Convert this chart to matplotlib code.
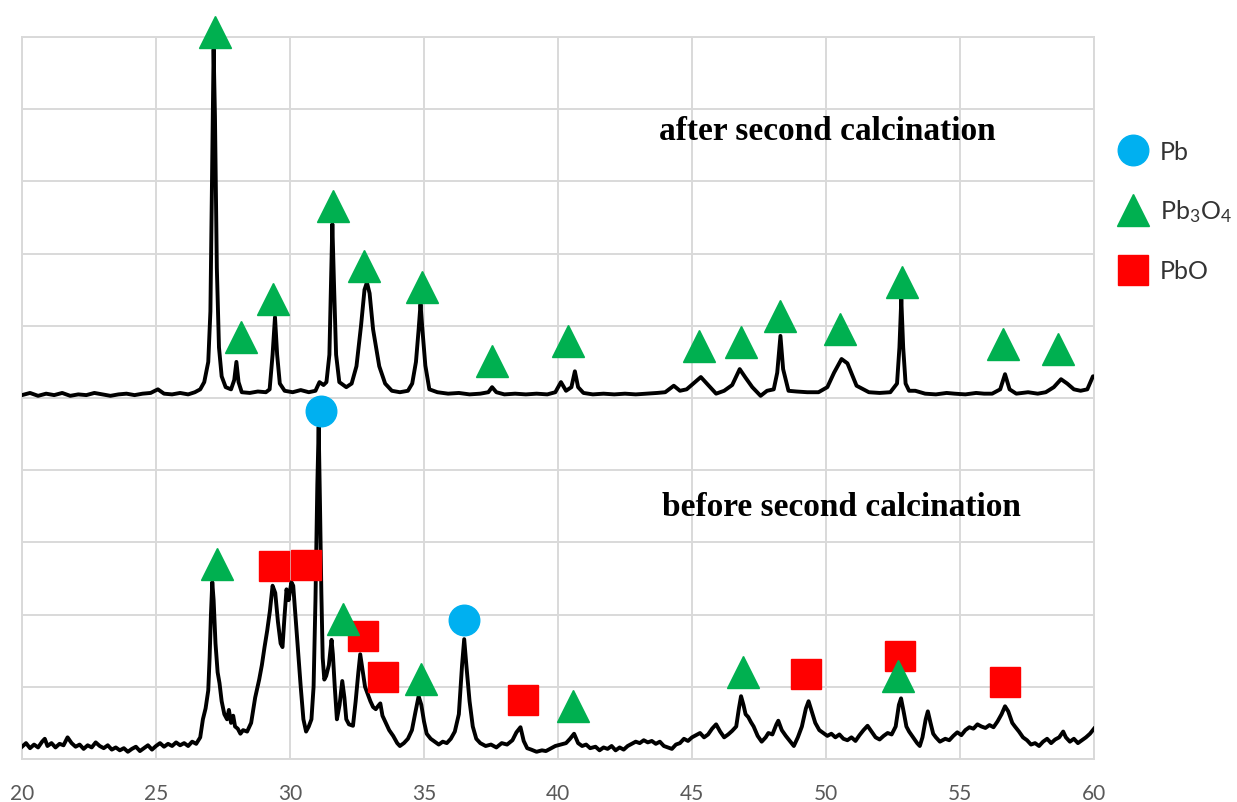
import matplotlib
matplotlib.use("Agg")
import matplotlib.pyplot as plt

plt.rcParams["font.family"] = ["Lato", "DejaVu Sans"]
plt.rcParams["mathtext.default"] = "regular"

# ==========================================
# XRD TRACES (2theta, intensity in grid units)
# ==========================================
after_x = [20.0, 20.3, 20.6, 20.9, 21.2, 21.5, 21.8, 22.1, 22.4, 22.7, 23.0, 23.3, 23.6, 23.9,
           24.2, 24.5, 24.8, 25.07, 25.3, 25.6, 25.9, 26.2, 26.45, 26.65, 26.8, 26.95, 27.03,
           27.1, 27.15, 27.2, 27.27, 27.35, 27.45, 27.6, 27.8, 27.92, 28.0, 28.08, 28.2, 28.5,
           28.8, 29.1, 29.24, 29.35, 29.44, 29.52, 29.62, 29.8, 30.1, 30.4, 30.7, 30.95, 31.1,
           31.25, 31.36, 31.47, 31.53, 31.58, 31.64, 31.72, 31.84, 32.1, 32.3, 32.48, 32.65,
           32.78, 32.87, 32.97, 33.1, 33.33, 33.55, 33.8, 34.1, 34.4, 34.56, 34.7, 34.8, 34.87,
           34.94, 35.05, 35.2, 35.5, 35.9, 36.3, 36.7, 37.1, 37.4, 37.54, 37.7, 38.0, 38.4,
           38.8, 39.2, 39.6, 39.9, 40.11, 40.3, 40.5, 40.63, 40.75, 40.95, 41.3, 41.7, 42.1,
           42.5, 42.9, 43.3, 43.7, 44.0, 44.32, 44.55, 44.8, 45.05, 45.33, 45.6, 45.9, 46.2,
           46.5, 46.78, 47.0, 47.25, 47.56, 47.8, 48.05, 48.18, 48.3, 48.4, 48.6, 48.9, 49.3,
           49.72, 50.05, 50.3, 50.58, 50.8, 51.14, 51.6, 52.0, 52.4, 52.65, 52.74, 52.81, 52.88,
           52.97, 53.1, 53.33, 53.7, 54.1, 54.5, 54.8, 55.2, 55.6, 55.9, 56.2, 56.5, 56.68,
           56.85, 57.1, 57.54, 57.9, 58.2, 58.5, 58.77, 59.0, 59.25, 59.5, 59.75, 59.96, 60.0]
after_y = [5.04, 5.07, 5.03, 5.06, 5.04, 5.07, 5.03, 5.05, 5.04, 5.07, 5.05, 5.03, 5.05, 5.06,
           5.04, 5.06, 5.07, 5.12, 5.06, 5.05, 5.07, 5.05, 5.08, 5.12, 5.22, 5.5, 6.2,
           8.3, 9.83, 8.9, 6.8, 5.7, 5.3, 5.15, 5.12, 5.25, 5.5, 5.22, 5.08, 5.07,
           5.09, 5.08, 5.12, 5.6, 6.12, 5.6, 5.2, 5.1, 5.08, 5.11, 5.08, 5.1, 5.22,
           5.18, 5.22, 5.6, 6.6, 7.41, 6.6, 5.6, 5.22, 5.15, 5.2, 5.44, 6.0,
           6.5, 6.6, 6.45, 5.95, 5.44, 5.2, 5.1, 5.08, 5.1, 5.2, 5.5, 5.95, 6.3,
           5.95, 5.45, 5.12, 5.08, 5.06, 5.07, 5.05, 5.06, 5.08, 5.15, 5.08, 5.05, 5.06,
           5.05, 5.06, 5.05, 5.08, 5.22, 5.1, 5.15, 5.37, 5.15, 5.07, 5.05, 5.06, 5.05,
           5.06, 5.05, 5.06, 5.07, 5.08, 5.17, 5.1, 5.12, 5.2, 5.29, 5.18, 5.06, 5.1,
           5.18, 5.4, 5.28, 5.15, 5.03, 5.1, 5.12, 5.35, 5.86, 5.4, 5.1, 5.09, 5.08,
           5.08, 5.15, 5.35, 5.54, 5.48, 5.17, 5.08, 5.07, 5.08, 5.2, 5.7, 6.37, 5.7,
           5.2, 5.1, 5.1, 5.06, 5.05, 5.07, 5.06, 5.05, 5.07, 5.06, 5.06, 5.12, 5.33,
           5.12, 5.06, 5.08, 5.06, 5.08, 5.15, 5.26, 5.2, 5.12, 5.1, 5.12, 5.3, 5.3]

before_x = [20.0, 20.15, 20.3, 20.45, 20.6, 20.75, 20.85, 20.95, 21.1, 21.25, 21.4, 21.55, 21.7,
            21.85, 22.0, 22.15, 22.3, 22.45, 22.6, 22.75, 22.9, 23.05, 23.2, 23.35, 23.5, 23.65,
            23.8, 23.95, 24.1, 24.25, 24.4, 24.55, 24.7, 24.85, 25.0, 25.15, 25.3, 25.45, 25.6,
            25.75, 25.9, 26.05, 26.2, 26.35, 26.5, 26.65, 26.75, 26.85, 26.95, 27.0, 27.05, 27.1,
            27.15, 27.22, 27.3, 27.37, 27.45, 27.55, 27.65, 27.72, 27.8, 27.88, 27.95, 28.05,
            28.15, 28.25, 28.4, 28.55, 28.7, 28.85, 28.95, 29.05, 29.15, 29.25, 29.35, 29.45,
            29.55, 29.65, 29.72, 29.8, 29.87, 29.95, 30.05, 30.12, 30.2, 30.3, 30.4, 30.5, 30.6,
            30.7, 30.8, 30.88, 30.95, 31.02, 31.07, 31.12, 31.17, 31.22, 31.28, 31.35, 31.45,
            31.55, 31.6, 31.67, 31.75, 31.85, 31.95, 32.03, 32.1, 32.2, 32.35, 32.45, 32.55,
            32.62, 32.7, 32.8, 32.9, 33.0, 33.1, 33.2, 33.3, 33.37, 33.45, 33.55, 33.7, 33.85,
            34.0, 34.1, 34.25, 34.4, 34.55, 34.68, 34.8, 34.9, 35.0, 35.1, 35.25, 35.4, 35.55,
            35.7, 35.85, 36.0, 36.15, 36.3, 36.42, 36.5, 36.58, 36.7, 36.82, 36.95, 37.1, 37.3,
            37.5, 37.7, 37.9, 38.1, 38.3, 38.45, 38.6, 38.72, 38.85, 39.0, 39.2, 39.4, 39.55,
            39.75, 39.9, 40.1, 40.3, 40.45, 40.6, 40.75, 40.9, 41.05, 41.2, 41.4, 41.55, 41.7,
            41.85, 42.0, 42.15, 42.3, 42.45, 42.6, 42.75, 42.9, 43.05, 43.2, 43.35, 43.5, 43.65,
            43.8, 43.95, 44.1, 44.25, 44.4, 44.55, 44.7, 44.85, 45.0, 45.15, 45.3, 45.45, 45.6,
            45.75, 45.9, 46.05, 46.2, 46.35, 46.5, 46.65, 46.75, 46.83, 46.92, 47.0, 47.1, 47.2,
            47.3, 47.45, 47.6, 47.75, 47.85, 48.0, 48.15, 48.22, 48.35, 48.5, 48.65, 48.8, 48.95,
            49.1, 49.25, 49.35, 49.45, 49.6, 49.75, 49.9, 50.05, 50.2, 50.35, 50.5, 50.65, 50.8,
            50.95, 51.1, 51.25, 51.4, 51.55, 51.7, 51.85, 52.0, 52.15, 52.3, 52.45, 52.6, 52.72,
            52.8, 52.9, 53.0, 53.1, 53.25, 53.4, 53.5, 53.6, 53.72, 53.8, 53.9, 54.0, 54.1, 54.25,
            54.45, 54.6, 54.75, 54.9, 55.05, 55.2, 55.35, 55.5, 55.65, 55.8, 55.95, 56.1, 56.25,
            56.4, 56.55, 56.68, 56.8, 56.95, 57.05, 57.2, 57.35, 57.5, 57.65, 57.8, 57.95, 58.1,
            58.25, 58.4, 58.55, 58.7, 58.85, 58.95, 59.1, 59.25, 59.4, 59.55, 59.7, 59.85, 60.0]
before_y = [0.17, 0.22, 0.15, 0.2, 0.16, 0.24, 0.28, 0.18, 0.22, 0.16, 0.21, 0.19, 0.3,
            0.22, 0.17, 0.2, 0.14, 0.19, 0.16, 0.23, 0.18, 0.15, 0.19, 0.13, 0.16, 0.12,
            0.15, 0.1, 0.14, 0.17, 0.11, 0.15, 0.19, 0.13, 0.18, 0.22, 0.17, 0.21, 0.18,
            0.23, 0.19, 0.22, 0.18, 0.24, 0.21, 0.3, 0.55, 0.7, 0.95, 1.4, 2.0, 2.45,
            2.2, 1.6, 1.2, 1.05, 0.8, 0.62, 0.55, 0.68, 0.5, 0.6, 0.45, 0.42,
            0.35, 0.4, 0.38, 0.5, 0.85, 1.1, 1.3, 1.55, 1.78, 2.05, 2.4, 2.3,
            1.9, 1.6, 1.55, 2.0, 2.35, 2.2, 2.45, 2.4, 2.0, 1.5, 1.0, 0.55, 0.38,
            0.45, 0.55, 1.0, 2.2, 3.8, 4.6, 3.5, 2.3, 1.4, 1.1, 1.15, 1.3,
            1.65, 1.45, 1.0, 0.55, 0.75, 1.08, 0.85, 0.55, 0.48, 0.46, 0.8, 1.2,
            1.45, 1.25, 1.0, 0.9, 0.8, 0.72, 0.69, 0.74, 0.77, 0.6, 0.52, 0.4, 0.32,
            0.22, 0.18, 0.22, 0.28, 0.4, 0.65, 0.87, 0.75, 0.52, 0.35, 0.28, 0.24, 0.2,
            0.24, 0.22, 0.28, 0.38, 0.62, 1.3, 1.66, 1.3, 0.8, 0.45, 0.28, 0.22, 0.18,
            0.2, 0.16, 0.22, 0.2, 0.26, 0.37, 0.44, 0.25, 0.15, 0.13, 0.1, 0.12, 0.11,
            0.15, 0.18, 0.2, 0.22, 0.28, 0.35, 0.22, 0.18, 0.2, 0.15, 0.17, 0.12, 0.16,
            0.14, 0.18, 0.12, 0.16, 0.13, 0.18, 0.21, 0.24, 0.22, 0.26, 0.23, 0.25, 0.21,
            0.24, 0.18, 0.16, 0.14, 0.2, 0.22, 0.28, 0.25, 0.3, 0.33, 0.36, 0.3, 0.34,
            0.42, 0.48, 0.38, 0.3, 0.34, 0.39, 0.45, 0.7, 0.87, 0.75, 0.62, 0.58, 0.51,
            0.45, 0.32, 0.24, 0.3, 0.36, 0.34, 0.48, 0.53, 0.4, 0.32, 0.25, 0.18, 0.3,
            0.45, 0.7, 0.8, 0.68, 0.5, 0.4, 0.36, 0.32, 0.35, 0.3, 0.34, 0.28, 0.26,
            0.3, 0.25, 0.33, 0.4, 0.46, 0.38, 0.3, 0.27, 0.32, 0.36, 0.34, 0.45, 0.75,
            0.84, 0.65, 0.45, 0.38, 0.3, 0.22, 0.18, 0.3, 0.55, 0.66, 0.5, 0.35, 0.3, 0.24,
            0.28, 0.26, 0.32, 0.37, 0.33, 0.4, 0.44, 0.42, 0.48, 0.45, 0.43, 0.47, 0.44,
            0.52, 0.62, 0.73, 0.66, 0.5, 0.45, 0.38, 0.3, 0.26, 0.2, 0.22, 0.18, 0.24,
            0.28, 0.22, 0.27, 0.3, 0.38, 0.3, 0.24, 0.28, 0.22, 0.26, 0.3, 0.35, 0.42]

# ==========================================
# PHASE MARKERS
# ==========================================
pb_x = [31.14, 36.5]
pb_y = [4.82, 1.93]

pb3o4_x = [27.19, 28.19, 29.35, 31.62, 32.77, 34.93, 37.54, 40.37, 45.25, 46.82, 48.3,
           50.54, 52.85, 56.61, 58.66,
           27.26, 31.96, 34.9, 40.56, 46.9, 52.7]
pb3o4_y = [10.07, 5.84, 6.37, 7.66, 6.83, 6.54, 5.51, 5.79, 5.72, 5.78, 6.14,
           5.96, 6.6, 5.75, 5.68,
           2.7, 1.94, 1.11, 0.73, 1.2, 1.15]

pbo_x = [29.39, 30.58, 32.74, 33.48, 38.7, 49.27, 52.77, 56.68]
pbo_y = [2.67, 2.69, 1.7, 1.14, 0.82, 1.18, 1.43, 1.07]

x_ticks = [20, 25, 30, 35, 40, 45, 50, 55, 60]

fig = plt.figure(figsize=(12.37, 8.03), dpi=100)
ax = fig.add_axes([22 / 1237, 43 / 803, 1072 / 1237, 722 / 803])

ax.plot(after_x, after_y, color="black", lw=2.8, zorder=3)
ax.plot(before_x, before_y, color="black", lw=2.8, zorder=3)

ax.plot(pbo_x, pbo_y, ls="none", marker="s", ms=21, color="#ff0000",
        label="PbO", zorder=4, clip_on=False)
ax.plot(pb3o4_x, pb3o4_y, ls="none", marker="^", ms=23, color="#00b050",
        label="Pb$_3$O$_4$", zorder=5, clip_on=False)
ax.plot(pb_x, pb_y, ls="none", marker="o", ms=22, color="#00b0f0",
        label="Pb", zorder=6, clip_on=False)

ax.text(50.06, 8.7, "after second calcination", ha="center", va="center",
        family="Liberation Serif", fontweight="bold", fontsize=24)
ax.text(50.58, 3.5, "before second calcination", ha="center", va="center",
        family="Liberation Serif", fontweight="bold", fontsize=24)

ax.set_xlim(20, 60)
ax.set_ylim(0, 10)
ax.set_xticks(x_ticks)
ax.set_yticks(range(11))
ax.set_yticklabels([])
ax.tick_params(axis="both", length=0)
ax.tick_params(axis="x", pad=17, labelsize=15, labelcolor="#595959")
ax.grid(True, color="#d9d9d9", lw=1.4)
ax.set_axisbelow(True)
for s in ax.spines.values():
    s.set_color("#d9d9d9")
    s.set_linewidth(1.4)

handles, labels = ax.get_legend_handles_labels()
order = [2, 1, 0]
ax.legend([handles[i] for i in order], [labels[i] for i in order],
          loc="upper left", bbox_to_anchor=(1107 / 1237, 1 - 128 / 803),
          bbox_transform=fig.transFigure, frameon=False, numpoints=1,
          fontsize=18, labelcolor="#333333", handlelength=1.05,
          handletextpad=0.55, labelspacing=1.4, borderpad=0)

fig.savefig("out.png", dpi=100)
